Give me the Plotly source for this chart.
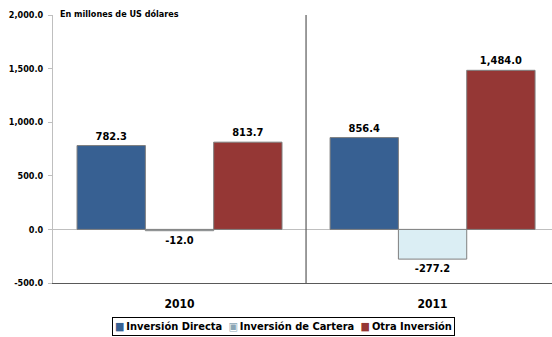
import plotly.graph_objects as go

# Categories and values (millones de US dólares)
years = ["2010", "2011"]
inversion_directa = [782.3, 856.4]
inversion_cartera = [-12.0, -277.2]
otra_inversion = [813.7, 1484.0]

series_names = ["Inversión Directa", "Inversión de Cartera", "Otra Inversión"]
series_values = [inversion_directa, inversion_cartera, otra_inversion]
colors = ["#376092", "#dbeef4", "#953735"]
swatch_edges = ["#376092", "#8aa6b5", "#953735"]

y_ticks = [-500, 0, 500, 1000, 1500, 2000]
y_tick_labels = ["-500.0", "0.0", "500.0", "1,000.0", "1,500.0", "2,000.0"]

FONT = "DejaVu Sans Condensed, Liberation Sans, Arial, sans-serif"

x_pos = list(range(len(years)))

fig = go.Figure()
for name, vals, col in zip(series_names, series_values, colors):
    fig.add_trace(go.Bar(
        x=x_pos,
        y=vals,
        name=name,
        marker=dict(color=col, line=dict(color="#7f7f7f", width=1)),
        texttemplate="%{y:,.1f}",
        textposition="outside",
        textfont=dict(family=FONT, size=11, color="#000000", weight="bold"),
        cliponaxis=False,
        showlegend=False,
    ))

# divider between the two year categories
fig.add_shape(type="line", xref="x", yref="y", x0=0.5, x1=0.5, y0=-500, y1=2045,
              line=dict(color="#595959", width=1.2))

fig.add_annotation(text="<b>En millones de US dólares</b>", xref="paper", yref="paper",
                   x=0.01, y=1.0, xanchor="left", yanchor="bottom", showarrow=False,
                   yshift=-6, font=dict(family=FONT, size=9, color="#000000"))

# compact boxed legend below the chart
def swatch(fill, edge):
    if fill == edge:
        return f"<span style='color:{fill}'>■</span>"
    return f"<span style='color:{edge}'>▣</span>"

legend_items = "&nbsp;&nbsp;".join(
    f"{swatch(c, e)}\u2009<b>{n}</b>" for n, c, e in zip(series_names, colors, swatch_edges)
)
fig.add_annotation(text=legend_items, xref="paper", yref="paper",
                   x=0.462, y=-0.125, xanchor="center", yanchor="top", showarrow=False,
                   bordercolor="#000000", borderwidth=1, borderpad=2, bgcolor="white",
                   font=dict(family=FONT, size=11, color="#000000"))

fig.update_layout(
    width=552, height=337,
    margin=dict(l=53, r=0, t=15, b=54),
    paper_bgcolor="white", plot_bgcolor="white",
    barmode="group", bargap=0.19, bargroupgap=0,
    showlegend=False,
    xaxis=dict(
        range=[-0.5, 1.472], tickvals=x_pos, ticktext=years,
        tickfont=dict(family=FONT, size=12, color="#000000", weight="bold"),
        showgrid=False, zeroline=False, showline=True, linecolor="#595959", linewidth=1,
        ticks="", ticklabelstandoff=10,
    ),
    yaxis=dict(
        range=[-500, 2000], tickvals=y_ticks, ticktext=y_tick_labels,
        tickfont=dict(family=FONT, size=9, color="#000000", weight="bold"),
        showgrid=False, zeroline=True, zerolinecolor="#bfbfbf", zerolinewidth=1,
        showline=True, linecolor="#bfbfbf", linewidth=1,
        ticks="outside", ticklen=4, tickcolor="#bfbfbf", ticklabelstandoff=3,
    ),
)

fig.write_html("out.html")
